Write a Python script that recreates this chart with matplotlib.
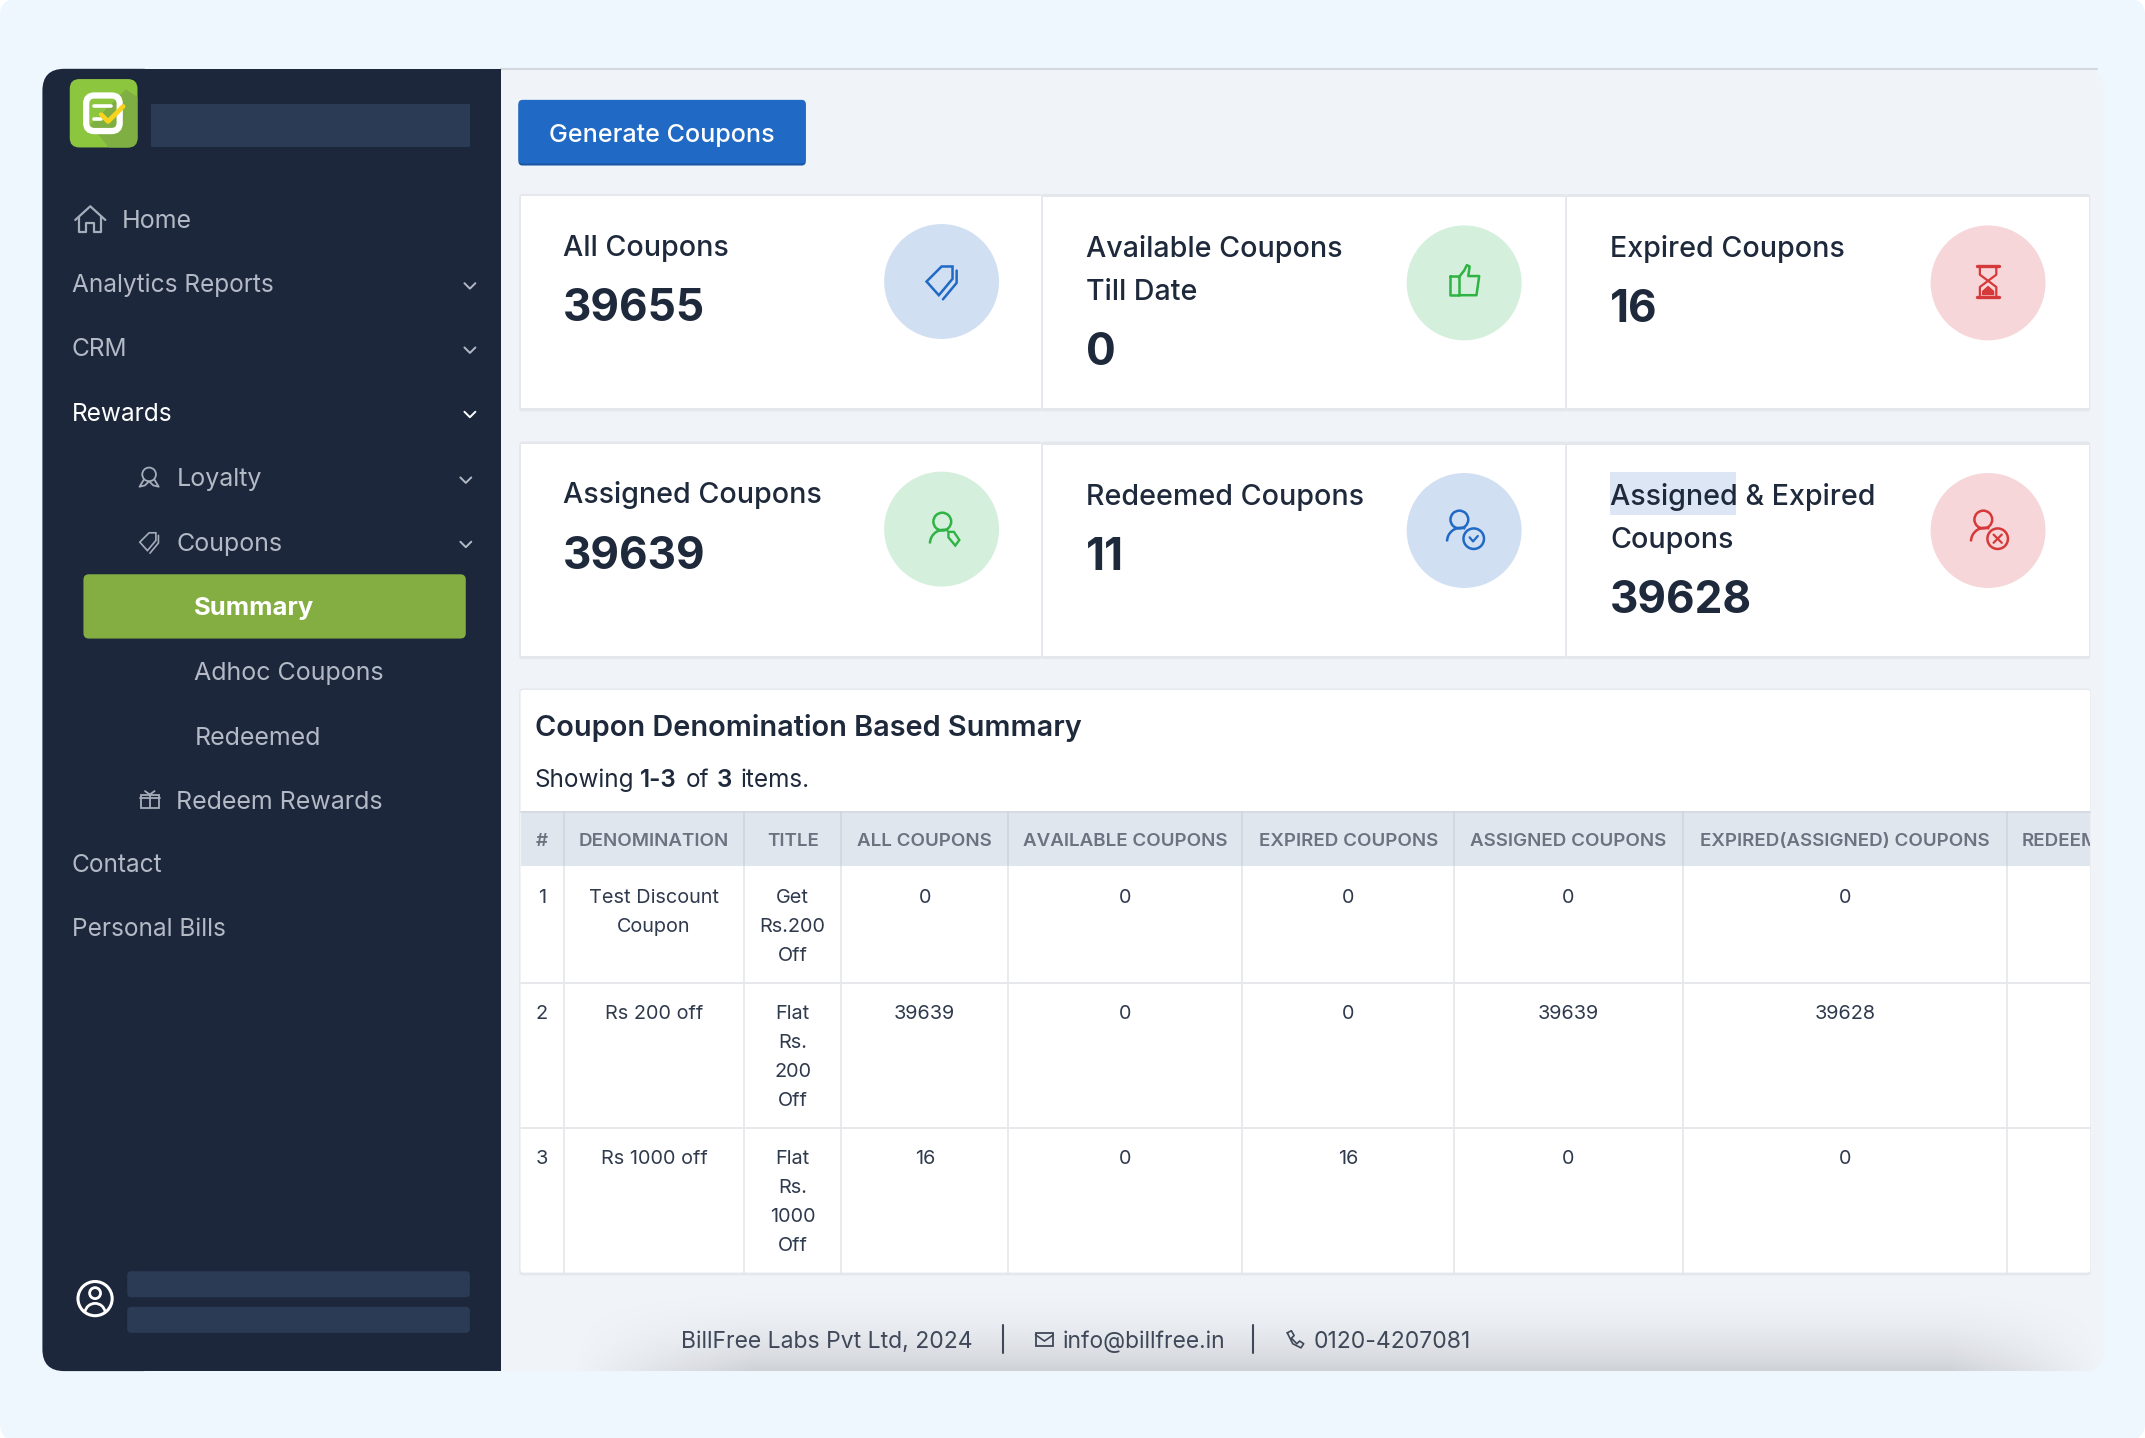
import numpy as np
import matplotlib
matplotlib.use('Agg')
import matplotlib.pyplot as plt
from matplotlib.patches import FancyBboxPatch, Rectangle, Circle, Polygon, Arc

plt.rcParams['font.family'] = ['Inter', 'DejaVu Sans']

# Menu
nav_labels = ['Home', 'Analytics Reports', 'CRM', 'Rewards', 'Loyalty', 'Coupons', 'Summary',
              'Adhoc Coupons', 'Redeemed', 'Redeem Rewards', 'Contact', 'Personal Bills']
nav_x = [89, 53, 53, 53, 129, 129, 142, 142, 142, 129, 53, 53]
nav_y = [160.7, 207.7, 254.7, 301.7, 349.7, 396.7, 443.7, 491, 538.5, 585.7, 631.7, 678.7]

# Cards
card_titles = [['All Coupons'], ['Available Coupons', 'Till Date'], ['Expired Coupons'],
               ['Assigned Coupons'], ['Redeemed Coupons'], ['Assigned & Expired', 'Coupons']]
card_values = ['39655', '0', '16', '39639', '11', '39628']
card_fill = ['#d1dff3', '#d4efdb', '#f6d6d8', '#d4efdb', '#d1dff3', '#f6d6d8']
card_line = ['#2069c4', '#2fb344', '#d63939', '#2fb344', '#2069c4', '#d63939']

# Table
columns = ['#', 'DENOMINATION', 'TITLE', 'ALL COUPONS', 'AVAILABLE COUPONS', 'EXPIRED COUPONS',
           'ASSIGNED COUPONS', 'EXPIRED(ASSIGNED) COUPONS', 'REDEEMED']
col_edges = [380, 412, 544, 615, 737, 908, 1063, 1230, 1467, 1528]
row_edges = [594, 634, 719, 825, 931]
row_ids = ['1', '2', '3']
denominations = [['Test Discount', 'Coupon'], ['Rs 200 off'], ['Rs 1000 off']]
titles = [['Get', 'Rs.200', 'Off'], ['Flat', 'Rs.', '200', 'Off'], ['Flat', 'Rs.', '1000', 'Off']]
all_coupons = ['0', '39639', '16']
available = ['0', '0', '0']
expired = ['0', '0', '16']
assigned = ['0', '39639', '0']
expired_assigned = ['0', '39628', '0']

NAVY = '#1c273c'
INK = '#1e293b'
BAR = '#2b3a55'
W, H = 1568, 1051.2
SHIFT = 0.7

fig = plt.figure(figsize=(21.45, 14.38), dpi=100, facecolor='white')
ax = fig.add_axes([0, 0, 1, 1])
ax.set_xlim(0, W)
ax.set_ylim(H + SHIFT, SHIFT)
ax.axis('off')


def box(x0, y0, x1, y1, color, r=0, z=1, **kw):
    if r == 0:
        p = Rectangle((x0, y0), x1 - x0, y1 - y0, fc=color, ec='none', zorder=z, **kw)
    else:
        p = FancyBboxPatch((x0, y0), x1 - x0, y1 - y0, boxstyle=f'round,pad=0,rounding_size={r}',
                           fc=color, ec='none', zorder=z, **kw)
    ax.add_patch(p)
    return p


def txt(x, y, s, size, color=INK, weight='normal', ha='left', z=6):
    # y is the middle of the capitals
    return ax.text(x, y + 0.36 * size * 1.015, s, fontsize=size, color=color, fontweight=weight,
                   ha=ha, va='baseline', zorder=z)


def line(xs, ys, color, lw=1.6, z=7):
    ax.plot(xs, ys, color=color, lw=lw, zorder=z, solid_capstyle='round', solid_joinstyle='round')


def ring(x, y, r, color, lw=1.6, z=7, fc='none'):
    ax.add_patch(Circle((x, y), r, fc=fc, ec=color, lw=lw, zorder=z))


def chevron(x, y, color):
    line([x - 4, x, x + 4], [y - 2, y + 2, y - 2], color, lw=1.4)


def tag(x, y, color, s=1.0, lw=1.8):
    pts = np.array([[-11, 0], [0, -11], [8, -11], [8, -2], [-2, 10]]) * s
    ax.add_patch(Polygon(pts + [x, y], closed=True, fc='none', ec=color, lw=lw, zorder=7))
    line(x + np.array([11, 11, 1]) * s, y + np.array([-8, 1, 13]) * s, color, lw=lw)


def person(x, y, color):
    ring(x, y, 6.5, color, lw=1.8)
    ax.add_patch(Arc((x + 1, y + 16), 20, 20, theta1=180, theta2=290, color=color, lw=1.8, zorder=7))


def card_icon(i, x, y, color):
    if i == 0:
        tag(x, y, color)
    elif i == 1:
        line([x - 10, x - 4, x - 4, x - 10, x - 10], [y - 4, y - 4, y + 10, y + 10, y - 4], color, lw=1.8)
        line([x - 4, x, x + 2, x + 4, x + 3, x + 11, x + 9, x - 4],
             [y - 3, y - 8, y - 12, y - 11, y - 4, y - 4, y + 10, y + 10], color, lw=1.8)
    elif i == 2:
        line([x - 8, x + 8], [y - 11, y - 11], color, lw=2.4)
        line([x - 8, x + 8], [y + 11, y + 11], color, lw=2.4)
        line([x - 6, x - 6, x + 6, x + 6], [y + 10, y + 4, y - 5, y - 10], color, lw=1.6)
        line([x + 6, x + 6, x - 6, x - 6], [y + 10, y + 4, y - 5, y - 10], color, lw=1.6)
        ax.add_patch(Polygon([[x - 4.5, y + 10], [x - 4.5, y + 7], [x, y + 3], [x + 4.5, y + 7], [x + 4.5, y + 10]],
                             fc=color, ec='none', zorder=7))
    elif i == 3:
        person(x + 0.5, y - 5.5, color)
        bx, by = x + 7, y + 5
        ax.add_patch(Polygon([[bx - 2, by - 3], [bx + 2, by - 3], [bx + 6, by + 3], [bx + 3, by + 7], [bx - 2, by + 1]],
                             fc=card_fill[3], ec=color, lw=1.7, zorder=8))
    else:
        person(x - 3.5, y - 8, color)
        bx, by = x + 7, y + 6
        ring(bx, by, 7.5, color, lw=1.8)
        if i == 4:
            line([bx - 3, bx - 0.5, bx + 3], [by - 1, by + 2, by - 2], color, lw=1.6)
        else:
            line([bx - 3, bx + 3], [by - 3, by + 3], color, lw=1.6)
            line([bx - 3, bx + 3], [by + 3, by - 3], color, lw=1.6)


# Backgrounds
box(0, 0, W, H + 2, '#eef6fe', r=12, z=0)
box(340, 51, 1538, 1003, '#f0f3f8', r=16, z=1)
line([366, 1533], [51.5, 51.5], '#d5d9df', lw=1.6, z=2)

# Shadow over the bottom of the page
gx = np.linspace(0, 1, 400)
gy = np.linspace(0, 1, 120)
edge = np.clip(gx / 0.12, 0, 1) * np.clip((1 - gx) / 0.1, 0, 1)
alpha = np.outer(gy ** 2.4, edge) * 0.14
shade = np.zeros((120, 400, 4))
shade[..., 3] = alpha
ax.imshow(shade, extent=[415, 1538, 1003, 930], aspect='auto', zorder=2, interpolation='bilinear')
ax.set_xlim(0, W)
ax.set_ylim(H + SHIFT, SHIFT)

# Sidebar
box(31, 51, 120, 1003, NAVY, r=16, z=3)
box(60, 51, 366, 1003, NAVY, z=3)
box(110.5, 76.5, 343.5, 108.5, BAR, z=4)

# Logo
logo = box(51, 58.5, 100.5, 108.5, '#8cc63f', r=7, z=4)
fold = Polygon([[66, 92], [92, 66], [101, 72], [101, 109], [80, 109]], fc='#7fae42', ec='none', zorder=4)
ax.add_patch(fold)
fold.set_clip_path(logo)
ax.add_patch(FancyBboxPatch((63, 70.5), 24.5, 26, boxstyle='round,pad=0,rounding_size=6',
                            fc='none', ec='white', lw=4.5, zorder=5))
line([69, 81], [78.5, 78.5], 'white', lw=2.6)
line([69, 74], [87.5, 87.5], 'white', lw=2.6)
line([74, 79, 90], [84.5, 89.5, 78.5], '#f7d31e', lw=3.4)

for i, label in enumerate(nav_labels):
    color = 'white' if label in ('Rewards', 'Summary') else '#b3b9c5'
    weight = 'bold' if label == 'Summary' else 'normal'
    size = 17.6 if nav_x[i] == 53 else 18
    if label == 'Summary':
        box(61, 420.5, 340.5, 467.5, '#84ae42', r=4, z=4)
        size = 18.4
    txt(nav_x[i] - (0.5 if nav_x[i] == 53 else 0), nav_y[i], label, size, color=color, weight=weight)
    if label in ('Analytics Reports', 'CRM', 'Rewards'):
        chevron(343.5, nav_y[i] + 2, color)
    if label in ('Loyalty', 'Coupons'):
        chevron(340.5, nav_y[i] + 2, color)

GREY = '#a6adba'
# Home
line([55, 66, 77], [161.5, 151.5, 161.5], GREY)
line([58, 58, 63, 63, 69, 69, 74, 74], [159.5, 170.5, 170.5, 163.5, 163.5, 170.5, 170.5, 159.5], GREY)
# Loyalty
ring(109, 347.5, 5, GREY, lw=1.3)
line([105, 102, 106, 109, 112, 116, 113], [351.5, 356.5, 355.5, 352.5, 355.5, 356.5, 351.5], GREY, lw=1.3)
# Coupons
tag(109, 397, GREY, s=0.62, lw=1.2)
# Redeem rewards
ax.add_patch(Rectangle((103, 581.5), 13, 10, fc='none', ec=GREY, lw=1.3, zorder=7))
line([102, 117], [584, 584], GREY, lw=1.3)
line([109.5, 109.5], [581.5, 591.5], GREY, lw=1.3)
line([106, 109.5, 113], [579, 581.5, 579], GREY, lw=1.3)

# Profile
ring(69.5, 950, 12.5, 'white', lw=2.2)
ring(69.5, 946, 4, 'white', lw=2)
ax.add_patch(Arc((69.5, 961), 15, 15, theta1=190, theta2=350, color='white', lw=2, zorder=7))
box(93, 930, 343.5, 949, BAR, r=3, z=4)
box(93, 956, 343.5, 975, BAR, r=3, z=4)

# Button
box(379, 74.7, 589, 121.7, '#1a56a3', r=3, z=3)
box(379, 73.7, 589, 120.2, '#2069c4', r=3, z=4)
txt(484, 98, 'Generate Coupons', 18.1, color='white', weight='medium', ha='center')

# Cards
card_x = [380, 762, 1145]
card_right = [762, 1145, 1528]
card_top = [143, 324]
for i in range(6):
    col, row = i % 3, i // 3
    x0, x1 = card_x[col], card_right[col]
    y0 = card_top[row]
    y1 = y0 + 157
    box(x0 - 0.5, y0 - 0.5, x1, y1 + 1.5, '#e4e7eb', r=2, z=3)
    box(x0 + 0.5, y0 + (1 if col == 0 else 2), x1 - (0 if col < 2 else 1), y1 - 1, 'white', z=4)
    if col < 2:
        line([x1, x1], [y0 + 1, y1], '#e4e7eb', lw=1.2, z=5)
    tx = x0 + (31.7 if col == 0 else 32)
    ty = y0 + 37 if col == 0 else y0 + 38
    if i == 5:
        box(1177, 346, 1269, 377, '#dde6f5', z=5)
    for j, part in enumerate(card_titles[i]):
        txt(tx, ty + 31.5 * j, part, 20.6, weight='medium')
    vy = ty + 31.5 * (len(card_titles[i]) - 1) + 43.7
    txt(tx, vy, card_values[i], 31.8, weight='bold')
    cx = x0 + 308.3
    cy = y0 + 63.5 if col == 0 else y0 + 64.5
    ax.add_patch(Circle((cx, cy), 42, fc=card_fill[i], ec='none', zorder=5))
    card_icon(i, cx, cy - 1 if i in (1, 2) else cy, card_line[i])

# Summary panel
box(379.5, 504, 1528.5, 933, '#e4e7eb', r=3, z=3)
box(380.5, 505, 1528, 931, 'white', r=2, z=4)
txt(391, 531, 'Coupon Denomination Based Summary', 20.8, weight='semibold')
for x, s, w in [(391, 'Showing', 'normal'), (468, '1-3', 'semibold'), (501.5, 'of', 'normal'),
                (524, '3', 'semibold'), (541, 'items.', 'normal')]:
    txt(x, 569.5, s, 17.5, weight=w)

# Table
clip = Rectangle((380, 590), 1148, 345, transform=ax.transData)
box(380.5, row_edges[0], 1528, row_edges[1], '#e0e6ee', z=4)
line([380.5, 1528], [594, 594], '#d5dbe3', lw=1.4, z=5)
for k, name in enumerate(columns):
    left, right = col_edges[k], col_edges[k + 1]
    if name == 'REDEEMED':
        t = txt(left + 11, 614.5, name, 13.5, color='#6b7280', weight='semibold')
    else:
        t = txt((left + right) / 2, 614.5, name, 13.5, color='#6b7280', weight='semibold', ha='center')
    t.set_clip_path(clip)
    t.set_clip_on(True)
for x in col_edges[1:-1]:
    line([x, x], [594, 634], '#cdd4de', lw=1.1, z=5)
    line([x, x], [634, 931], '#e2e5ea', lw=1.1, z=5)
for y in row_edges[2:4]:
    line([380.5, 1528], [y, y], '#e6e8ec', lw=1.4, z=5)

cols = [[[v] for v in row_ids], denominations, titles, [[v] for v in all_coupons],
        [[v] for v in available], [[v] for v in expired], [[v] for v in assigned],
        [[v] for v in expired_assigned]]
for k, col in enumerate(cols):
    xc = (col_edges[k] + col_edges[k + 1]) / 2
    for r, lines in enumerate(col):
        for j, s in enumerate(lines):
            txt(xc, row_edges[r + 1] + 21.7 + 21 * j, s, 14.3, color='#2f3a4d', ha='center')

# Footer
FOOT = '#3f4859'
txt(498, 980, 'BillFree Labs Pvt Ltd, 2024', 16.5, color=FOOT)
line([733, 733], [969, 990], FOOT, lw=1.5)
ax.add_patch(Rectangle((757, 975.5), 13, 9.5, fc='none', ec=FOOT, lw=1.3, zorder=7))
line([757, 763.5, 770], [976.5, 981, 976.5], FOOT, lw=1.2)
txt(777, 980, 'info@billfree.in', 16.4, color=FOOT)
line([916, 916], [969, 990], FOOT, lw=1.5)
line([941, 944, 946, 944, 948, 950, 953, 951, 945, 941],
     [975, 973.5, 977, 979, 983, 981, 983, 986, 983, 975], FOOT, lw=1.2)
txt(960, 980, '0120-4207081', 16.5, color=FOOT)

fig.savefig('out.png', dpi=100, facecolor='white')
